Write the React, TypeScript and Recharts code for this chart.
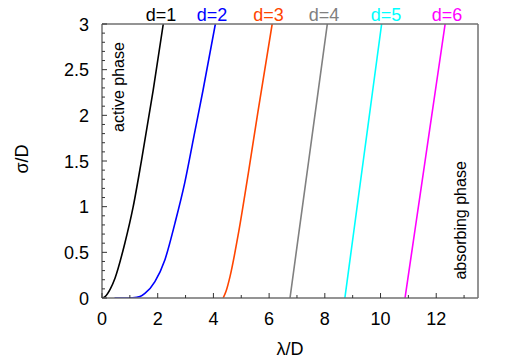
import React from 'react';
import { LineChart, Line, XAxis, YAxis, ReferenceDot, Label } from 'recharts';

// ---- data (λ/D, σ/D) ----
const d1Lambda = [0, 0.11, 0.3, 0.47, 0.82, 1.12, 1.42, 1.84, 2.2];
const d1Sigma = [0, 0.015, 0.1, 0.22, 0.6, 1.0, 1.51, 2.28, 3.0];

const d2Lambda = [0.45, 0.8, 1.1, 1.36, 1.54, 1.9, 2.26, 2.62, 2.97, 3.3, 3.63, 4.07];
const d2Sigma = [0, 0, 0.003, 0.015, 0.05, 0.18, 0.42, 0.82, 1.26, 1.77, 2.28, 3.0];

const d3Lambda = [4.35, 4.45, 4.6, 4.9, 5.25, 5.6, 6.11];
const d3Sigma = [0, 0.07, 0.24, 0.71, 1.36, 2.04, 3.0];

const d4Lambda = [6.75, 7.08, 7.42, 7.76, 8.09];
const d4Sigma = [0, 0.74, 1.5, 2.26, 3.0];

const d5Lambda = [8.72, 9.05, 9.38, 9.71, 10.04];
const d5Sigma = [0, 0.75, 1.5, 2.25, 3.0];

const d6Lambda = [10.88, 11.24, 11.6, 11.96, 12.32];
const d6Sigma = [0, 0.75, 1.5, 2.25, 3.0];

const seriesNames = ['d=1', 'd=2', 'd=3', 'd=4', 'd=5', 'd=6'];
const seriesColors = ['#000000', '#0000ff', '#ff4500', '#808080', '#00ffff', '#ff00ff'];
const seriesLabelLambda = [2.12, 3.95, 5.98, 7.97, 10.2, 12.39];

const xTicks = [0, 1, 2, 3, 4, 5, 6, 7, 8, 9, 10, 11, 12, 13];
const yTicks = [
  0, 0.1, 0.2, 0.3, 0.4, 0.5, 0.6, 0.7, 0.8, 0.9, 1, 1.1, 1.2, 1.3, 1.4, 1.5,
  1.6, 1.7, 1.8, 1.9, 2, 2.1, 2.2, 2.3, 2.4, 2.5, 2.6, 2.7, 2.8, 2.9, 3,
];

const activeText = { lambda: 0.59, sigma: 2.31, text: 'active phase' };
const absorbingText = { lambda: 12.85, sigma: 0.85, text: 'absorbing phase' };

const toPoints = (xs: number[], ys: number[]) => xs.map((x, i) => ({ x, y: ys[i] }));
const series = [
  toPoints(d1Lambda, d1Sigma),
  toPoints(d2Lambda, d2Sigma),
  toPoints(d3Lambda, d3Sigma),
  toPoints(d4Lambda, d4Sigma),
  toPoints(d5Lambda, d5Sigma),
  toPoints(d6Lambda, d6Sigma),
];

const FONT = 'Liberation Sans, Arial, sans-serif';
const FRAME = '#707070';
const TICK = '#333333';

const XTick = (props: any) => {
  const { x, y, payload } = props;
  const v = payload.value;
  const major = Math.abs(v / 2 - Math.round(v / 2)) < 1e-6;
  return (
    <g>
      <line x1={x} x2={x} y1={y} y2={y - (major ? 5 : 3)} stroke={TICK} strokeWidth={1} />
      {major && (
        <text x={x} y={y + 27} textAnchor="middle" fontSize={18} fontFamily={FONT} fill="#000">
          {String(v)}
        </text>
      )}
    </g>
  );
};

const YTick = (props: any) => {
  const { x, y, payload } = props;
  const v = payload.value;
  const major = Math.abs(v * 2 - Math.round(v * 2)) < 1e-6;
  return (
    <g>
      <line x1={x} x2={x + (major ? 5 : 3)} y1={y} y2={y} stroke={TICK} strokeWidth={1} />
      {major && (
        <text x={x - 13} y={y + 6.5} textAnchor="end" fontSize={18} fontFamily={FONT} fill="#000">
          {String(Math.round(v * 10) / 10)}
        </text>
      )}
    </g>
  );
};

const EmptyTick = () => <g />;

const YLabel = (props: any) => {
  const vb = props.viewBox || { x: 0, y: 24, width: 102, height: 274 };
  const cx = vb.x + 28;
  const cy = vb.y + vb.height / 2 - 2;
  return (
    <text x={cx} y={cy} transform={`rotate(-90, ${cx}, ${cy})`} textAnchor="middle" fontSize={18} fontFamily={FONT} fill="#000">
      σ/D
    </text>
  );
};

const XLabel = (props: any) => {
  const vb = props.viewBox || { x: 102, y: 298, width: 376, height: 61 };
  const cx = vb.x + vb.width / 2;
  const cy = vb.y + 57;
  return (
    <text x={cx} y={cy} textAnchor="middle" fontSize={18} fontFamily={FONT} fill="#000">
      λ/D
    </text>
  );
};

const rotatedText = (text: string, dx: number) => (p: any) => {
  const x = p.cx + dx;
  const y = p.cy;
  return (
    <text x={x} y={y} transform={`rotate(-90, ${x}, ${y})`} textAnchor="middle" fontSize={16} fontFamily={FONT} fill="#000">
      {text}
    </text>
  );
};

const topText = (text: string, color: string) => (p: any) => (
  <text x={p.cx} y={p.cy - 3} textAnchor="middle" fontSize={18} fontFamily={FONT} fill={color}>
    {text}
  </text>
);

export default function App() {
  return (
    <div style={{ position: 'absolute', left: 0, top: 0, width: 512, height: 359, background: '#fff' }}>
      <LineChart width={512} height={359} margin={{ top: 0, right: 0, bottom: 0, left: 0 }}>
        <XAxis
          xAxisId={0}
          type="number"
          dataKey="x"
          domain={[0, 13.5]}
          allowDataOverflow
          ticks={xTicks}
          interval={0}
          height={61}
          tickSize={0}
          tickMargin={0}
          tickLine={false}
          tick={<XTick />}
          axisLine={{ stroke: FRAME, strokeWidth: 1.5 }}
        >
          <Label content={<XLabel />} />
        </XAxis>
        <XAxis
          xAxisId="top"
          orientation="top"
          type="number"
          domain={[0, 13.5]}
          allowDataOverflow
          ticks={[0, 13.5]}
          height={24}
          tickSize={0}
          tickLine={false}
          tick={<EmptyTick />}
          axisLine={{ stroke: FRAME, strokeWidth: 1.5 }}
        />
        <YAxis
          yAxisId={0}
          type="number"
          domain={[0, 3]}
          allowDataOverflow
          ticks={yTicks}
          interval={0}
          width={102}
          tickSize={0}
          tickMargin={0}
          tickLine={false}
          tick={<YTick />}
          axisLine={{ stroke: FRAME, strokeWidth: 1.5 }}
        >
          <Label content={<YLabel />} />
        </YAxis>
        <YAxis
          yAxisId="right"
          orientation="right"
          type="number"
          domain={[0, 3]}
          allowDataOverflow
          ticks={[0, 3]}
          width={34}
          tickSize={0}
          tickLine={false}
          tick={<EmptyTick />}
          axisLine={{ stroke: FRAME, strokeWidth: 1.5 }}
        />
        {series.map((data, i) => (
          <Line
            key={seriesNames[i]}
            data={data}
            dataKey="y"
            xAxisId={0}
            yAxisId={0}
            type="monotone"
            stroke={seriesColors[i]}
            strokeWidth={1.6}
            dot={false}
            activeDot={false}
            isAnimationActive={false}
          />
        ))}
        {seriesNames.map((name, i) => (
          <ReferenceDot
            key={'lbl' + name}
            x={seriesLabelLambda[i]}
            y={3}
            r={0}
            ifOverflow="visible"
            shape={topText(name, seriesColors[i])}
          />
        ))}
        <ReferenceDot
          x={activeText.lambda}
          y={activeText.sigma}
          r={0}
          ifOverflow="visible"
          shape={rotatedText(activeText.text, 6)}
        />
        <ReferenceDot
          x={absorbingText.lambda}
          y={absorbingText.sigma}
          r={0}
          ifOverflow="visible"
          shape={rotatedText(absorbingText.text, 6)}
        />
      </LineChart>
    </div>
  );
}
